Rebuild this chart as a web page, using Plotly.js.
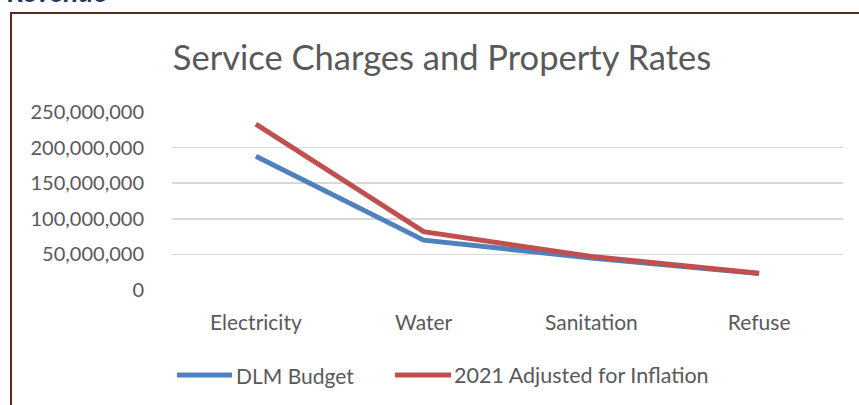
<!DOCTYPE html>
<html>
<head>
<meta charset="utf-8">
<script src="https://cdn.plot.ly/plotly-3.0.1.min.js"></script>
<style>
html,body{margin:0;padding:0;background:#fff;}
#chart{width:859px;height:405px;}
</style>
</head>
<body>
<div id="chart"></div>
<script>
const categories = ["Electricity", "Water", "Sanitation", "Refuse"];
const seriesNames = ["DLM Budget", "2021 Adjusted for Inflation"];
const dlmBudget = [188000000, 70000000, 45000000, 23000000];
const adjustedInflation = [233000000, 82000000, 47000000, 23500000];
const tickValues = [0, 50000000, 100000000, 150000000, 200000000, 250000000];
const tickLabels = ["0", "50,000,000", "100,000,000", "150,000,000", "200,000,000", "250,000,000"];

const W = 859, H = 405;
const mL = 172, mR = 16, mT = 112, mB = 115;
const pw = W - mL - mR, ph = H - mT - mB;
const px = x => (x - mL) / pw;
const py = y => (H - mB - y) / ph;

const FONT = "Lato, 'Open Sans', sans-serif";
const GREY = "#595959";
const COLORS = ["#4f81bd", "#c0504d"];

const traces = [
  {x: categories, y: dlmBudget, name: seriesNames[0], type: "scatter", mode: "lines",
   line: {color: COLORS[0], width: 5}},
  {x: categories, y: adjustedInflation, name: seriesNames[1], type: "scatter", mode: "lines",
   line: {color: COLORS[1], width: 5}}
];

// custom legend (long line samples like the original)
const legendItems = [
  {x0: 177, x1: 232, tx: 235, size: 21},
  {x0: 395, x1: 451, tx: 453, size: 21.5}
];
const legendY = 375;

const shapes = [
  {type: "rect", xref: "paper", yref: "paper", x0: px(11), x1: px(880), y0: py(13), y1: py(430),
   line: {color: "#632523", width: 2}, fillcolor: "rgba(0,0,0,0)", layer: "below"}
];
const annotations = [
  {text: "<b><i>Revenue</i></b>", xref: "paper", yref: "paper", x: px(5), y: py(10),
   xanchor: "left", yanchor: "bottom", showarrow: false,
   font: {family: FONT, size: 28, color: "#1f3864"}}
];
legendItems.forEach((it, i) => {
  shapes.push({type: "line", xref: "paper", yref: "paper", x0: px(it.x0), x1: px(it.x1),
    y0: py(legendY), y1: py(legendY), line: {color: COLORS[i], width: 5}});
  annotations.push({text: seriesNames[i], xref: "paper", yref: "paper", x: px(it.tx), y: py(legendY),
    xanchor: "left", yanchor: "middle", showarrow: false, borderpad: 0,
    font: {family: FONT, size: it.size, color: GREY}});
});

const layout = {
  width: W, height: H,
  margin: {l: mL, r: mR, t: mT, b: mB, pad: 0},
  paper_bgcolor: "#ffffff", plot_bgcolor: "#ffffff",
  font: {family: FONT, color: GREY},
  title: {
    text: "Service Charges and Property Rates",
    font: {family: FONT, size: 34.5, color: GREY},
    x: 442 / W, xref: "container", xanchor: "center",
    y: 1 - 58 / H, yref: "container", yanchor: "middle"
  },
  xaxis: {
    type: "category", range: [-0.5, 3.5], showgrid: false, zeroline: false,
    showline: false, ticks: "", tickfont: {family: FONT, size: 21, color: GREY},
    ticklabelstandoff: 18, fixedrange: true
  },
  yaxis: {
    range: [0, 250000000], tickvals: tickValues, ticktext: tickLabels,
    showgrid: true, gridcolor: "#d9d9d9", gridwidth: 1.5, zeroline: false,
    showline: false, ticks: "", tickfont: {family: FONT, size: 20, color: GREY},
    ticklabelstandoff: 27, fixedrange: true
  },
  showlegend: false,
  shapes: shapes,
  annotations: annotations
};

Plotly.newPlot("chart", traces, layout, {displayModeBar: false, staticPlot: true});
</script>
</body>
</html>
